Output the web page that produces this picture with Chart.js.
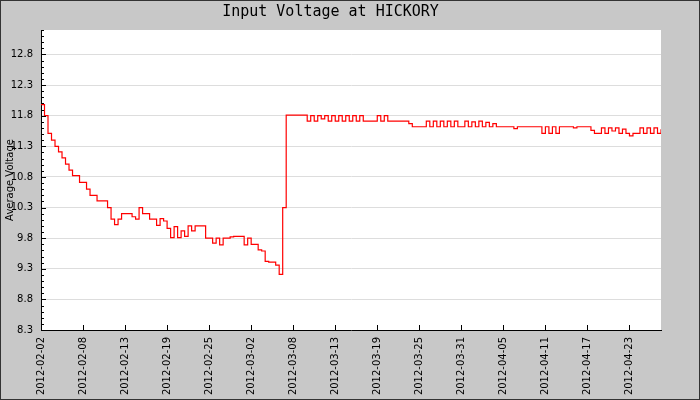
<!DOCTYPE html>
<html>
<head>
<meta charset="utf-8">
<script src="https://cdn.jsdelivr.net/npm/chart.js@4/dist/chart.umd.min.js"></script>
<style>
  html, body { margin: 0; padding: 0; background: #c8c8c8; }
  canvas { display: block; }
</style>
</head>
<body>
<canvas id="c" width="700" height="400"></canvas>
<script>
// Average input voltage, sampled at equal intervals (12 samples per labelled tick)
const values = [
  11.98, 11.8, 11.51, 11.4, 11.3, 11.21, 11.11, 11.01, 10.91, 10.82,
  10.82, 10.71, 10.71, 10.6, 10.5, 10.5, 10.41, 10.41, 10.41, 10.3,
  10.11, 10.02, 10.11, 10.2, 10.2, 10.2, 10.15, 10.11, 10.3, 10.2,
  10.2, 10.11, 10.11, 10.01, 10.12, 10.08, 9.96, 9.81, 9.99, 9.81,
  9.92, 9.83, 10.0, 9.92, 10.0, 10.0, 10.0, 9.8, 9.8, 9.72,
  9.8, 9.69, 9.8, 9.8, 9.82, 9.83, 9.83, 9.83, 9.69, 9.8,
  9.7, 9.7, 9.61, 9.59, 9.42, 9.41, 9.41, 9.36, 9.21, 10.3,
  11.81, 11.81, 11.81, 11.81, 11.81, 11.81, 11.71, 11.8, 11.71, 11.8,
  11.75, 11.8, 11.71, 11.8, 11.71, 11.8, 11.71, 11.8, 11.71, 11.8,
  11.71, 11.8, 11.71, 11.71, 11.71, 11.71, 11.8, 11.71, 11.8, 11.71,
  11.71, 11.71, 11.71, 11.71, 11.71, 11.67, 11.62, 11.62, 11.62, 11.62,
  11.71, 11.62, 11.71, 11.62, 11.71, 11.62, 11.71, 11.62, 11.71, 11.62,
  11.62, 11.71, 11.62, 11.7, 11.62, 11.71, 11.62, 11.69, 11.62, 11.67,
  11.62, 11.62, 11.62, 11.62, 11.62, 11.59, 11.62, 11.62, 11.62, 11.62,
  11.62, 11.62, 11.62, 11.51, 11.62, 11.51, 11.62, 11.51, 11.62, 11.62,
  11.62, 11.62, 11.6, 11.62, 11.62, 11.62, 11.62, 11.56, 11.51, 11.51,
  11.6, 11.51, 11.6, 11.55, 11.6, 11.51, 11.58, 11.51, 11.47, 11.51,
  11.51, 11.6, 11.51, 11.6, 11.51, 11.6, 11.51, 11.58
];

const xTickLabels = [
  '2012-02-02', '2012-02-08', '2012-02-13', '2012-02-19', '2012-02-25',
  '2012-03-02', '2012-03-08', '2012-03-13', '2012-03-19', '2012-03-25',
  '2012-03-31', '2012-04-05', '2012-04-11', '2012-04-17', '2012-04-23'
];
const samplesPerTick = 12;

const yTickValues = [8.3, 8.8, 9.3, 9.8, 10.3, 10.8, 11.3, 11.8, 12.3, 12.8];
const yMin = 8.3, yMax = 13.2, yMinorStep = 0.1;

const chartTitle = 'Input Voltage at HICKORY';
const yTitle = 'Average Voltage';

const framePlugin = {
  id: 'frame',
  beforeDraw(chart) {
    const { ctx, chartArea: a } = chart;
    ctx.save();
    ctx.fillStyle = '#c8c8c8';
    ctx.fillRect(0, 0, chart.width, chart.height);
    ctx.fillStyle = '#ffffff';
    ctx.fillRect(a.left, a.top, a.right - a.left, a.bottom - a.top);
    ctx.restore();
  },
  afterDraw(chart) {
    const { ctx, chartArea: a } = chart;
    const ys = chart.scales.y, xs = chart.scales.x;
    ctx.save();
    ctx.strokeStyle = '#000';
    ctx.lineWidth = 1;
    ctx.beginPath();
    const n = Math.round((yMax - yMin) / yMinorStep);
    for (let k = 0; k <= n; k++) {
      const v = yMin + k * yMinorStep;
      const y = Math.round(ys.getPixelForValue(v)) + 0.5;
      const major = k % 5 === 0;
      ctx.moveTo(a.left, y);
      ctx.lineTo(a.left + (major ? 5 : 3), y);
    }
    xs.ticks.forEach(t => {
      const x = Math.round(xs.getPixelForValue(t.value)) + 0.5;
      ctx.moveTo(x, a.bottom);
      ctx.lineTo(x, a.bottom - 5);
    });
    ctx.stroke();
    ctx.strokeStyle = '#333';
    ctx.strokeRect(0.5, 0.5, chart.width - 1, chart.height - 1);
    ctx.restore();
  }
};

Chart.defaults.font.family = "'DejaVu Sans', sans-serif";
Chart.defaults.font.size = 10;
Chart.defaults.color = '#000';

new Chart(document.getElementById('c'), {
  type: 'line',
  data: {
    datasets: [{
      data: values.map((v, i) => ({ x: i, y: v })),
      borderColor: '#ff0000',
      borderWidth: 1.2,
      pointRadius: 0,
      stepped: true,
      fill: false
    }]
  },
  options: {
    responsive: false,
    animation: false,
    layout: { padding: { left: 0, right: 39, top: 0, bottom: 0 } },
    plugins: {
      legend: { display: false },
      tooltip: { enabled: false },
      title: {
        display: true,
        text: chartTitle,
        color: '#000',
        font: { family: "'DejaVu Sans Mono', monospace", size: 15, weight: 'normal', lineHeight: 1.2 },
        padding: { top: 3, bottom: 9 }
      }
    },
    scales: {
      x: {
        type: 'linear',
        min: 0,
        max: values.length - 1,
        afterBuildTicks: (axis) => {
          axis.ticks = xTickLabels.map((_, k) => ({ value: k * samplesPerTick }));
        },
        afterFit: (scale) => { scale.height = 70; },
        grid: { display: false, drawTicks: false },
        border: { display: true, color: '#000', width: 1 },
        ticks: {
          autoSkip: false,
          minRotation: 90,
          maxRotation: 90,
          padding: 7,
          callback: (value, index) => xTickLabels[index]
        }
      },
      y: {
        type: 'linear',
        min: yMin,
        max: yMax,
        afterBuildTicks: (axis) => {
          axis.ticks = yTickValues.map(v => ({ value: v }));
        },
        afterFit: (scale) => { scale.width = 41; },
        grid: { display: true, drawTicks: false, color: '#dddddd', lineWidth: 1 },
        border: { display: true, color: '#000', width: 1 },
        ticks: {
          padding: 8,
          callback: (value) => Number(value).toFixed(1)
        },
        title: {
          display: true,
          text: yTitle,
          font: { size: 10 },
          padding: { top: 4, bottom: 0 }
        }
      }
    }
  },
  plugins: [framePlugin]
});
</script>
</body>
</html>
